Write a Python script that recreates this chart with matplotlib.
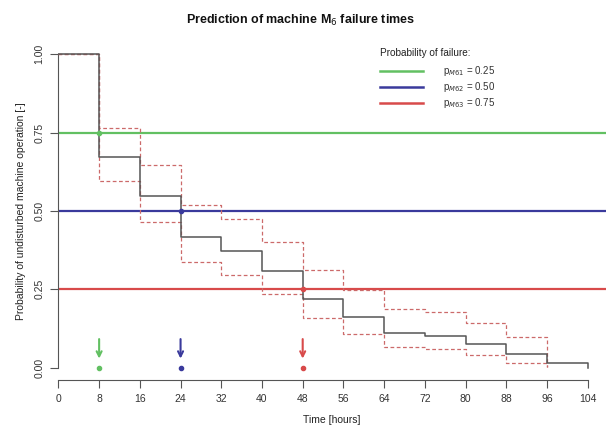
import numpy as np
import matplotlib.pyplot as plt

plt.rcParams['font.family'] = ['Liberation Sans', 'DejaVu Sans']

# step times (hours) and Kaplan-Meier style estimates
times = [0, 8, 16, 24, 32, 40, 48, 56, 64, 72, 80, 88, 96, 104]
survival = [1.0, 0.673, 0.548, 0.418, 0.373, 0.308, 0.220, 0.162, 0.110, 0.101, 0.077, 0.043, 0.016, 0.0]

ci_times = [0, 8, 16, 24, 32, 40, 48, 56, 64, 72, 80, 88, 96]
upper_ci = [1.0, 0.764, 0.645, 0.519, 0.474, 0.401, 0.311, 0.247, 0.186, 0.176, 0.144, 0.099, 0.003]
lower_ci = [1.0, 0.594, 0.464, 0.337, 0.296, 0.234, 0.159, 0.106, 0.067, 0.060, 0.041, 0.016, 0.003]

# failure probability levels and predicted times
levels = [0.75, 0.50, 0.25]
fail_times = [8, 24, 48]
level_labels = ['p$_{M61}$ = 0.25', 'p$_{M62}$ = 0.50', 'p$_{M63}$ = 0.75']
level_colors = ['#62c062', '#3a3a9c', '#d84a4a']

xticks = list(range(0, 105, 8))
yticks = [0.0, 0.25, 0.5, 0.75, 1.0]

fig = plt.figure(figsize=(6.06, 4.34), dpi=100)
ax = fig.add_axes([0.0964, 0.124, 0.9036, 0.78])

# horizontal probability lines
for lv, c in zip(levels, level_colors):
    ax.axhline(lv, color=c, lw=1.6, zorder=2)

ax.step(ci_times, upper_ci, where='post', color='#cc6a6a', lw=0.9, ls=(0, (3, 2)), zorder=3)
ax.step(ci_times, lower_ci, where='post', color='#cc6a6a', lw=0.9, ls=(0, (3, 2)), zorder=3)
ax.step(times, survival, where='post', color='#555555', lw=1.1, zorder=4)

# intersection points, arrows and markers on time axis
for t, lv, c in zip(fail_times, levels, level_colors):
    ax.plot(t, lv, 'o', color=c, ms=3, zorder=5)
    ax.plot(t, 0, 'o', color=c, ms=3, zorder=5)
    ax.annotate('', xy=(t, 0.02), xytext=(t, 0.10),
                arrowprops=dict(arrowstyle='->', color=c, lw=1.5, mutation_scale=9))

ax.set_xlim(0, 107.6)
ax.set_ylim(-0.04, 1.04)
ax.set_xticks(xticks)
ax.set_yticks(yticks)
ax.set_yticklabels(['%.2f' % v for v in yticks], rotation=90, va='center')
for s in ['top', 'right']:
    ax.spines[s].set_visible(False)
ax.spines['left'].set_bounds(0, 1)
ax.spines['bottom'].set_bounds(0, 104)
for s in ['left', 'bottom']:
    ax.spines[s].set_color('#555555')
    ax.spines[s].set_linewidth(0.8)
ax.tick_params(direction='out', length=6, width=0.8, color='#555555',
               labelsize=7.5, labelcolor='#333333', pad=4)

ax.set_xlabel('Time [hours]', fontsize=7.5, color='#222222', labelpad=8)
ax.set_ylabel('Probability of undisturbed machine operation [-]', fontsize=7.5,
              color='#222222', labelpad=6)

fig.text(0.496, 0.952, 'Prediction of machine M$_6$ failure times', ha='center', va='center',
         fontsize=9, fontweight='bold', color='#111111')

# legend drawn manually in figure coordinates
fig.text(380 / 606, 1 - 53 / 434, 'Probability of failure:', fontsize=7.2, va='center', color='#222222')
for i, (lab, c) in enumerate(zip(level_labels, level_colors)):
    yy = 1 - (71 + 16 * i) / 434
    fig.add_artist(plt.Line2D([380 / 606, 423 / 606], [yy, yy], color=c, lw=1.8))
    fig.text(443 / 606, yy, lab, fontsize=7, va='center', color='#333333')

fig.savefig('out.png', dpi=100)
